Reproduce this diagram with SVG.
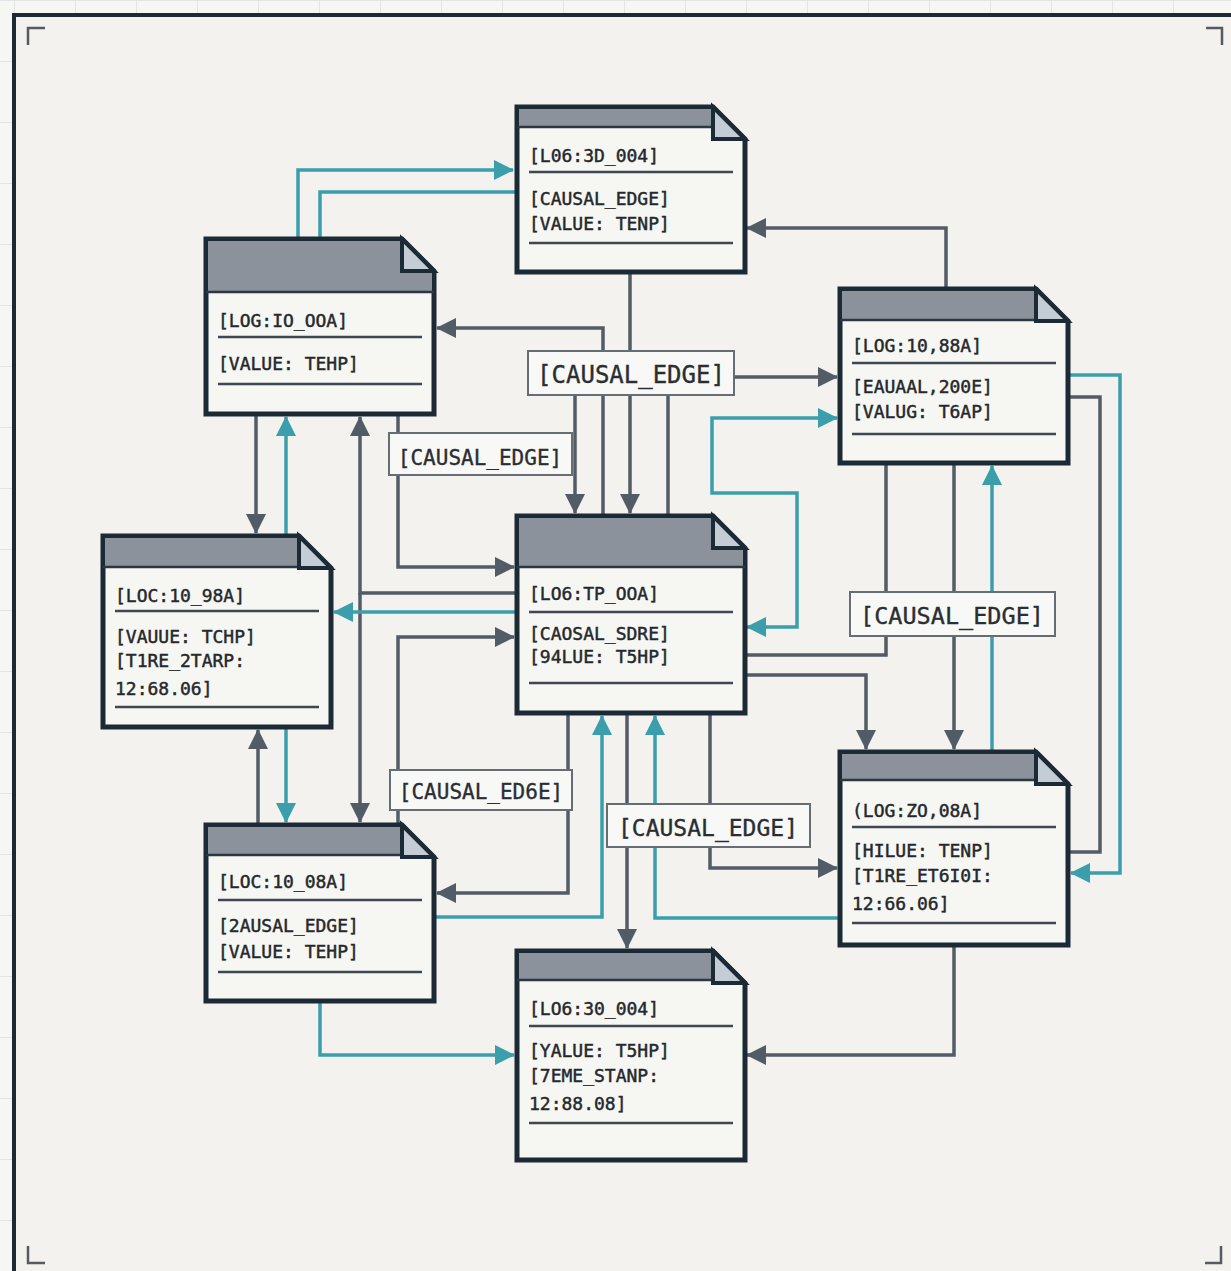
<svg xmlns="http://www.w3.org/2000/svg" width="1231" height="1271" viewBox="0 0 1231 1271">
<defs>
<pattern id="grid" width="61" height="61" patternUnits="userSpaceOnUse" x="14" y="0">
<path d="M0,0 V61 M0,0 H61" fill="none" stroke="#dcdfe0" stroke-width="1.5"/>
</pattern>
<marker id="ag" viewBox="0 0 20 20" markerWidth="20" markerHeight="20" refX="19" refY="10" orient="auto-start-reverse" markerUnits="userSpaceOnUse">
<path d="M0,0 L20,10 L0,20 Z" fill="#525c66"/>
</marker>
<marker id="at" viewBox="0 0 20 20" markerWidth="20" markerHeight="20" refX="19" refY="10" orient="auto-start-reverse" markerUnits="userSpaceOnUse">
<path d="M0,0 L20,10 L0,20 Z" fill="#3a9eab"/>
</marker>
</defs>
<style>
.g{fill:none;stroke:#525c66;stroke-width:3.5}
.t{fill:none;stroke:#3a9eab;stroke-width:3.5}
.ga{marker-end:url(#ag)}
.ta{marker-end:url(#at)}
.body{fill:#f6f6f3;stroke:#1c2a36;stroke-width:5;stroke-linejoin:miter}
.hdr{fill:#8b929b}
.hl{stroke:#2c3742;stroke-width:2.5}
.fold{fill:#c4cdd6;stroke:#1c2a36;stroke-width:4;stroke-linejoin:miter}
.sep{stroke:#3f4750;stroke-width:2.5}
.nt{font-family:"DejaVu Sans Mono","Liberation Mono",monospace;font-size:18px;fill:#24282c;stroke:#24282c;stroke-width:0.45}
.lb rect{fill:#f8f8f6;stroke:#666d74;stroke-width:2}
.lb text{font-family:"DejaVu Sans Mono","Liberation Mono",monospace;fill:#2a2e33;stroke:#2a2e33;stroke-width:0.35;text-anchor:middle}
.cm{fill:none;stroke:#555b60;stroke-width:2.5}
</style>
<rect width="1231" height="1271" fill="#f6f6f4"/>
<rect width="1231" height="1271" fill="url(#grid)"/>
<rect x="14" y="15" width="1217" height="1256" fill="#f3f2ee"/>
<path d="M14,1271 V15 H1231" fill="none" stroke="#1e2a33" stroke-width="4"/>
<g id="corners">
<path class="cm" d="M28,45 V28 H45"/>
<path class="cm" d="M1206,28 H1222 V45"/>
<path class="cm" d="M28,1246 V1263 H45"/>
<path class="cm" d="M1205,1263 H1221 V1246"/>
</g>
<g id="connectors">
<path class="t ta" d="M298,239 V170 H513"/>
<path class="t" d="M320,239 V192 H517"/>
<path class="g ga" d="M946,289 V228 H747"/>
<path class="g ga" d="M735,377 H837"/>
<path class="g ga" d="M603,351 V328 H437"/>
<path class="g" d="M630,272 V351"/>
<path class="g ga" d="M575,395 V513"/>
<path class="g" d="M603,395 V516"/>
<path class="g ga" d="M630,395 V513"/>
<path class="g" d="M668,395 V516"/>
<path class="g ga" d="M398,414 V567 H514"/>
<path class="g ga" d="M517,593 H360 V417"/>
<path class="g ga" d="M360,593 V822"/>
<path class="t ta" d="M517,612 H334"/>
<path class="g ga" d="M398,825 V637 H514"/>
<path class="g ga" d="M568,713 V893 H437"/>
<path class="t ta" d="M434,917 H602 V716"/>
<path class="g ga" d="M627,713 V948"/>
<path class="t ta" d="M840,918 H655 V716"/>
<path class="g ga" d="M710,713 V868 H837"/>
<path class="g" d="M744,655 H886 V463"/>
<path class="g ga" d="M744,675 H866 V749"/>
<path class="g ga" d="M954,463 V749"/>
<path class="t ta" d="M992,752 V466"/>
<path class="t ta" style="marker-start:url(#at)" d="M837,418 H712 V493 H797 V627 H747"/>
<path class="t ta" d="M1068,375 H1120 V873 H1071"/>
<path class="g" d="M1068,397 H1100 V852 H1068"/>
<path class="g ga" d="M954,945 V1055 H747"/>
<path class="t ta" d="M320,1001 V1055 H514"/>
<path class="g ga" d="M256,414 V533"/>
<path class="t ta" d="M286,536 V417"/>
<path class="g ga" d="M258,825 V730"/>
<path class="t ta" d="M286,727 V822"/>
</g>
<g id="n1" transform="translate(517,107)">
<path class="body" d="M0,0 H196 L228,32 V165 H0 Z"/>
<path class="hdr" d="M2,2 H196 V20 H2 Z"/>
<line class="hl" x1="0" y1="20" x2="196" y2="20"/>
<path class="fold" d="M196,0 V32 H228 Z"/>
<text class="nt" x="12" y="55">[L06:3D_004]</text>
<line class="sep" x1="12" y1="65" x2="216" y2="65"/>
<text class="nt" x="12" y="98">[CAUSAL_EDGE]</text>
<text class="nt" x="12" y="123">[VALUE: TENP]</text>
<line class="sep" x1="12" y1="136" x2="216" y2="136"/>
</g>
<g id="n2" transform="translate(206,239)">
<path class="body" d="M0,0 H196 L228,32 V175 H0 Z"/>
<path class="hdr" d="M2,2 H196 L226,32 V53 H2 Z"/>
<line class="hl" x1="0" y1="53" x2="228" y2="53"/>
<path class="fold" d="M196,0 V32 H228 Z"/>
<text class="nt" x="12" y="88">[LOG:IO_OOA]</text>
<line class="sep" x1="12" y1="98" x2="216" y2="98"/>
<text class="nt" x="12" y="131">[VALUE: TEHP]</text>
<line class="sep" x1="12" y1="145" x2="216" y2="145"/>
</g>
<g id="n3" transform="translate(840,289)">
<path class="body" d="M0,0 H196 L228,32 V174 H0 Z"/>
<path class="hdr" d="M2,2 H196 V31 H2 Z"/>
<line class="hl" x1="0" y1="31" x2="196" y2="31"/>
<path class="fold" d="M196,0 V32 H228 Z"/>
<text class="nt" x="12" y="63">[LOG:10,88A]</text>
<line class="sep" x1="12" y1="74" x2="216" y2="74"/>
<text class="nt" x="12" y="104">[EAUAAL,200E]</text>
<text class="nt" x="12" y="129">[VALUG: T6AP]</text>
<line class="sep" x1="12" y1="145" x2="216" y2="145"/>
</g>
<g id="n4" transform="translate(103,536)">
<path class="body" d="M0,0 H196 L228,32 V191 H0 Z"/>
<path class="hdr" d="M2,2 H196 V31 H2 Z"/>
<line class="hl" x1="0" y1="31" x2="196" y2="31"/>
<path class="fold" d="M196,0 V32 H228 Z"/>
<text class="nt" x="12" y="66">[LOC:10_98A]</text>
<line class="sep" x1="12" y1="75" x2="216" y2="75"/>
<text class="nt" x="12" y="107">[VAUUE: TCHP]</text>
<text class="nt" x="12" y="131">[T1RE_2TARP:</text>
<text class="nt" x="12" y="159">12:68.06]</text>
<line class="sep" x1="12" y1="171" x2="216" y2="171"/>
</g>
<g id="n5" transform="translate(517,516)">
<path class="body" d="M0,0 H196 L228,32 V197 H0 Z"/>
<path class="hdr" d="M2,2 H196 L226,32 V51 H2 Z"/>
<line class="hl" x1="0" y1="51" x2="228" y2="51"/>
<path class="fold" d="M196,0 V32 H228 Z"/>
<text class="nt" x="12" y="84">[LO6:TP_OOA]</text>
<line class="sep" x1="12" y1="96" x2="216" y2="96"/>
<text class="nt" x="12" y="124">[CAOSAL_SDRE]</text>
<text class="nt" x="12" y="147">[94LUE: T5HP]</text>
<line class="sep" x1="12" y1="167" x2="216" y2="167"/>
</g>
<g id="n6" transform="translate(840,752)">
<path class="body" d="M0,0 H196 L228,32 V193 H0 Z"/>
<path class="hdr" d="M2,2 H196 V28 H2 Z"/>
<line class="hl" x1="0" y1="28" x2="196" y2="28"/>
<path class="fold" d="M196,0 V32 H228 Z"/>
<text class="nt" x="12" y="65">(LOG:ZO,08A]</text>
<line class="sep" x1="12" y1="75" x2="216" y2="75"/>
<text class="nt" x="12" y="105">[HILUE: TENP]</text>
<text class="nt" x="12" y="130">[T1RE_ET6I0I:</text>
<text class="nt" x="12" y="158">12:66.06]</text>
<line class="sep" x1="12" y1="171" x2="216" y2="171"/>
</g>
<g id="n7" transform="translate(206,825)">
<path class="body" d="M0,0 H196 L228,32 V176 H0 Z"/>
<path class="hdr" d="M2,2 H196 V30 H2 Z"/>
<line class="hl" x1="0" y1="30" x2="196" y2="30"/>
<path class="fold" d="M196,0 V32 H228 Z"/>
<text class="nt" x="12" y="63">[LOC:10_08A]</text>
<line class="sep" x1="12" y1="75" x2="216" y2="75"/>
<text class="nt" x="12" y="107">[2AUSAL_EDGE]</text>
<text class="nt" x="12" y="133">[VALUE: TEHP]</text>
<line class="sep" x1="12" y1="147" x2="216" y2="147"/>
</g>
<g id="n8" transform="translate(517,951)">
<path class="body" d="M0,0 H196 L228,32 V209 H0 Z"/>
<path class="hdr" d="M2,2 H196 V29 H2 Z"/>
<line class="hl" x1="0" y1="29" x2="196" y2="29"/>
<path class="fold" d="M196,0 V32 H228 Z"/>
<text class="nt" x="12" y="64">[LO6:30_004]</text>
<line class="sep" x1="12" y1="75" x2="216" y2="75"/>
<text class="nt" x="12" y="106">[YALUE: T5HP]</text>
<text class="nt" x="12" y="131">[7EME_STANP:</text>
<text class="nt" x="12" y="159">12:88.08]</text>
<line class="sep" x1="12" y1="172" x2="216" y2="172"/>
</g>
<g id="labels">
<g class="lb" id="l1"><rect x="528" y="351" width="206" height="44"/><text x="631" y="383" font-size="24">[CAUSAL_EDGE]</text></g>
<g class="lb" id="l2"><rect x="389" y="433" width="183" height="42"/><text x="480" y="465" font-size="21">[CAUSAL_EDGE]</text></g>
<g class="lb" id="l3"><rect x="850" y="592" width="205" height="44"/><text x="952" y="624" font-size="23.5">[CAUSAL_EDGE]</text></g>
<g class="lb" id="l4"><rect x="390" y="770" width="182" height="40"/><text x="481" y="799" font-size="21">[CAUSAL_ED6E]</text></g>
<g class="lb" id="l5"><rect x="607" y="804" width="203" height="43"/><text x="708" y="836" font-size="23">[CAUSAL_EDGE]</text></g>
</g>
</svg>
